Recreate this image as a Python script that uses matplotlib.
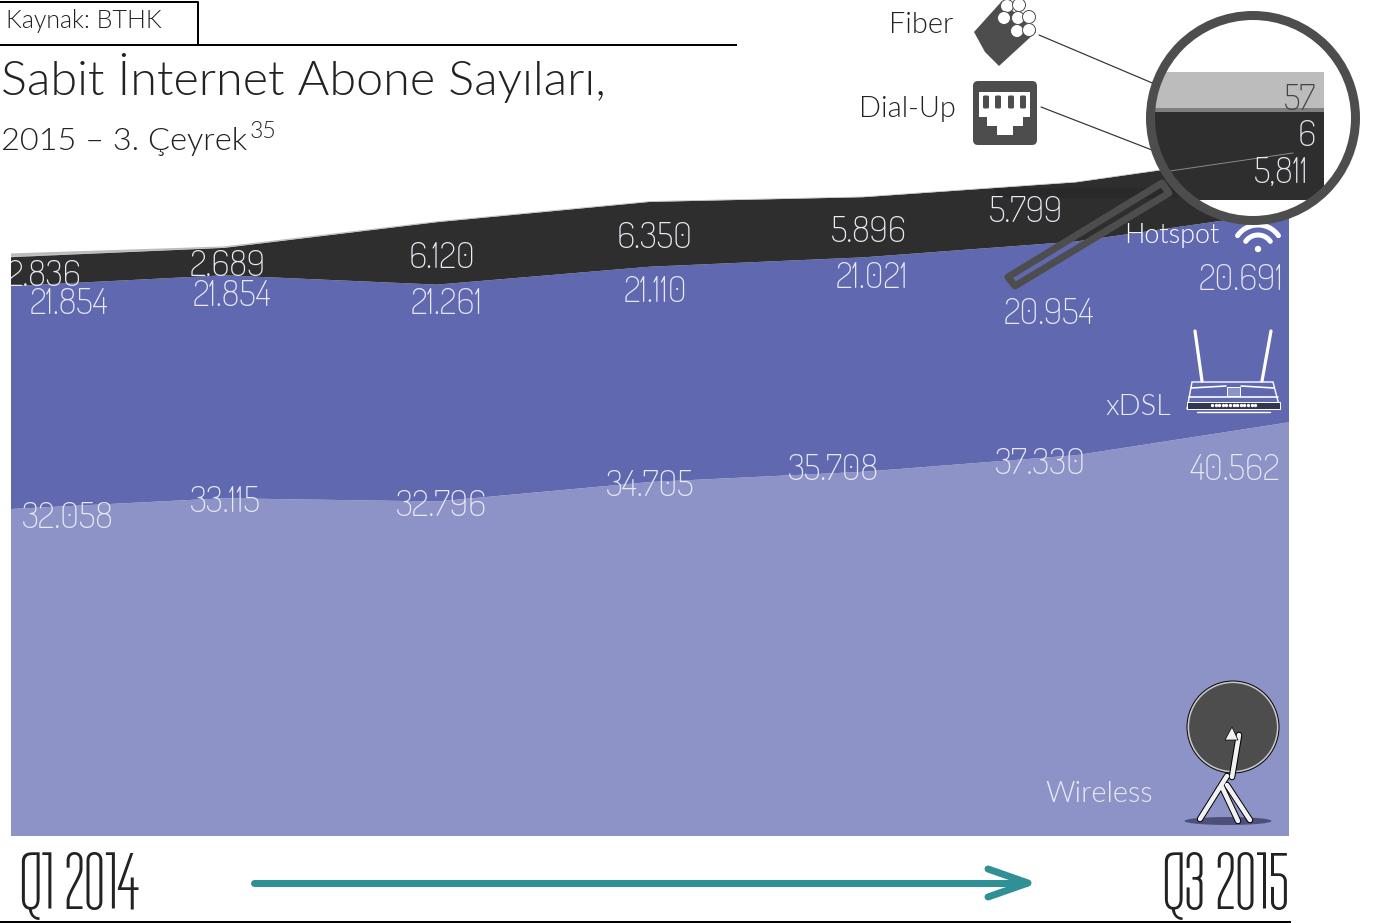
import numpy as np
import matplotlib
matplotlib.use("Agg")
import matplotlib.pyplot as plt
from matplotlib.patches import Circle, Rectangle, Polygon, Ellipse, FancyBboxPatch

quarters = ["Q1 2014", "Q2 2014", "Q3 2014", "Q4 2014", "Q1 2015", "Q2 2015", "Q3 2015"]
wireless = [32058, 33115, 32796, 34705, 35708, 37330, 40562]
xdsl = [21854, 21854, 21261, 21110, 21021, 20954, 20691]
hotspot = [2836, 2689, 6120, 6350, 5896, 5799, 5811]
dialup = [40, 25, 15, 10, 8, 7, 6]
fiber = [330, 120, 80, 70, 60, 58, 57]

# where the value labels sit (pixels)
wireless_pos = [(68, 516), (225, 499), (441, 503), (650, 483), (833, 468), (1040, 461), (1235, 468)]
xdsl_pos = [(69, 301), (232, 293), (447, 301), (655, 290), (872, 275), (1049, 311), (1241, 277)]
hotspot_pos = [(44, 273), (228, 263), (442, 255), (655, 236), (869, 229), (1026, 209)]

W, H = 1375, 923
FONT = ["Lato", "DejaVu Sans"]
NUMFONT = ["Dosis", "Lato", "DejaVu Sans"]
CONDFONT = ["Tulpen One", "Liberation Sans", "DejaVu Sans"]
DARK = "#4d4d4d"
LABEL = "#e9eaf4"


def fmt(v):
    return f"{v:,}".replace(",", ".")


fig = plt.figure(figsize=(W / 100, H / 100), dpi=100, facecolor="white")

# the stacked area, real scale
ax = fig.add_axes([11 / W, (H - 836) / H, (1289 - 11) / W, 836 / H])
ax.stackplot(range(len(quarters)), wireless, xdsl, hotspot, dialup, fiber,
             colors=["#8d93c7", "#6068b0", "#2e2e2e", "#7f7f7f", "#bcbcbc"], linewidth=0)
ax.set_xlim(0, len(quarters) - 1)
ax.set_ylim(0, 836 / 0.0102)
ax.axis("off")

# everything else goes on a pixel overlay
ov = fig.add_axes([0, 0, 1, 1], facecolor="none")
ov.set_xlim(0, W)
ov.set_ylim(H, 0)
ov.axis("off")


def txt(x, y, s, px, color="black", ha="center", va="center", weight=300, family=FONT, z=10):
    return ov.text(x, y, s, fontsize=px * 0.72, color=color, ha=ha, va=va,
                   fontweight=weight, family=family, zorder=z)


def num(x, y, s, color=LABEL, ha="center"):
    return txt(x, y + 3, s, 36, color=color, ha=ha, family=NUMFONT, weight=200)


def line(xs, ys, px, color, z=5, cap="round"):
    ov.plot(xs, ys, lw=px * 0.72, color=color, zorder=z, solid_capstyle=cap, solid_joinstyle="round")


# header
line([0, 737], [45, 45], 2, "black", cap="butt")
line([0, 198, 198], [2, 2, 45], 2, "black", cap="butt")
txt(6, 21, "Kaynak: BTHK", 25, color="#222222", ha="left")
txt(1, 78, "Sabit İnternet Abone Sayıları,", 48.5, color="#222222", ha="left")
txt(1, 141, "2015 – 3. Çeyrek", 32.5, color="#222222", ha="left")
txt(250, 132, "35", 23, color="#222222", ha="left")

# value labels
for v, (x, y) in zip(wireless, wireless_pos):
    num(x, y, fmt(v))
for v, (x, y) in zip(xdsl, xdsl_pos):
    num(x, y, fmt(v))
for i, (v, (x, y)) in enumerate(zip(hotspot, hotspot_pos)):
    t = num(x, y, fmt(v))
    if i == 0:
        clip = Rectangle((11, 200), 200, 120, transform=ov.transData)
        t.set_clip_path(clip)
        t.set_clip_on(True)

# series names
txt(1099, 794, "Wireless", 29, color=LABEL)
txt(1138, 407, "xDSL", 29, color=LABEL)
txt(1172, 235, "Hotspot", 27, color="white", z=6)
txt(921, 25, "Fiber", 29, color="#222222")
txt(907, 109, "Dial-Up", 29, color="#222222")

# bottom timeline
txt(79, 886, quarters[0], 82, family=CONDFONT, weight="normal", color="#222222")
txt(1225, 886, quarters[-1], 82, family=CONDFONT, weight="normal", color="#222222")
line([254, 1026], [883, 883], 7, "#2f9096")
line([988, 1028, 988], [869, 883, 897], 7, "#2f9096")
line([0, 1291], [922, 922], 2, "black", cap="butt")

# dark strip behind the lens
ov.add_patch(Rectangle((995, 188), 296, 10, fc="#292929", ec="none", zorder=3))

# magnifier
lens_c = (1253, 118)
ov.add_patch(Circle(lens_c, 103, fc="white", ec="none", zorder=6))
clip_c = Circle(lens_c, 103, transform=ov.transData)
for (y0, y1, c) in [(72, 108, "#bcbcbc"), (108, 112, "#7f7f7f"), (112, 200, "#2e2e2e")]:
    r = Rectangle((1143, y0), 181, y1 - y0, fc=c, ec="none", zorder=7)
    ov.add_patch(r)
    r.set_clip_path(clip_c)
ov.plot([1170, 1293], [171, 153], lw=0.7, color="#8a8a8a", zorder=8)
num(1316, 97, str(fiber[-1]), color="#444444", ha="right")
num(1316, 133, str(dialup[-1]), ha="right")
num(1309, 170, fmt(hotspot[-1]).replace(".", ","), ha="right")
ov.add_patch(Circle(lens_c, 102.5, fc="none", ec=DARK, lw=9 * 0.72, zorder=9))
ov.add_patch(Polygon([(1162, 183), (1169, 193), (1015, 286), (1008, 277)], closed=True,
                     fc="none", ec=DARK, lw=7 * 0.72, joinstyle="round", zorder=9))
line([1039, 1157], [35, 85], 1.2, "#333333")
line([1041, 1152], [107, 150], 1.2, "#333333")

# fiber icon
ov.add_patch(Polygon([(974, 32), (1002, 1), (1036, 32), (999, 66), (985, 52)], closed=True,
                     fc=DARK, ec="none", zorder=5))
for cx, cy in [(1007, 6), (1019, 5), (1004, 18), (1018, 18), (1029, 17), (1017, 31), (1029, 30)]:
    ov.add_patch(Circle((cx, cy), 6.5, fc="white", ec=DARK, lw=0.7, zorder=6))

# dial-up icon
ov.add_patch(FancyBboxPatch((976, 84), 58, 58, boxstyle="round,pad=3,rounding_size=5",
                            fc=DARK, ec="none", zorder=5))
ov.add_patch(Polygon([(979, 92), (1030, 92), (1030, 117), (1023, 117), (1023, 126), (1013, 126),
                      (1013, 135), (997, 135), (997, 126), (987, 126), (987, 117), (979, 117)],
                     closed=True, fc="white", ec="none", zorder=6))
for cx in [986, 998, 1011, 1023]:
    ov.add_patch(FancyBboxPatch((cx - 1.5, 97), 3, 10, boxstyle="round,pad=1.5", fc=DARK, ec="none", zorder=7))

# wifi icon
for rad in [25, 15]:
    th = np.radians(np.linspace(35, 145, 40))
    line(1258 + rad * np.cos(th), 250 - rad * np.sin(th), 5, "white", z=6)
ov.add_patch(Circle((1258, 249), 3.2, fc="white", ec="none", zorder=6))

# router icon
line([1195, 1202], [331, 381], 3.2, "white")
line([1271, 1262], [331, 381], 3.2, "white")
ov.add_patch(Polygon([(1192, 382), (1273, 382), (1280, 409), (1187, 409)], closed=True,
                     fc="none", ec="white", lw=1.0, zorder=5))
line([1191, 1226], [388, 386], 1.6, "white")
line([1241, 1274], [386, 388], 1.6, "white")
line([1189, 1278], [397, 397], 1.6, "white")
ov.add_patch(Rectangle((1227, 387), 13, 9, fc="#8d93c7", ec="white", lw=0.7, zorder=6))
ov.add_patch(Rectangle((1187, 402), 93, 7, fc="#33364f", ec="white", lw=0.7, zorder=6))
ov.scatter(np.arange(1212, 1256, 3.6), [405] * 13, s=2, color="white", zorder=7)
line([1197, 1270], [412, 412], 1.4, "white")

# dish icon
ov.add_patch(Ellipse((1228, 821), 87, 8, fc="#4b4f7a", ec="none", zorder=4))
ov.add_patch(Circle((1233, 727), 45, fc=DARK, ec="#c8c8c8", lw=1.6, zorder=5))
ov.add_patch(Circle((1233, 727), 46, fc="none", ec="black", lw=0.7, zorder=5))
for xs, ys in [([1239, 1232], [735, 777]), ([1227, 1200], [776, 819]),
               ([1222, 1238], [787, 821]), ([1227, 1250], [785, 820])]:
    line(xs, ys, 6.5, "black", z=6)
    line(xs, ys, 4.5, "#f2f2f2", z=7)
ov.add_patch(Polygon([(1232, 727), (1225, 740), (1238, 740)], closed=True,
                     fc="#f2f2f2", ec="black", lw=0.5, zorder=8))

fig.savefig("out.png", dpi=100)
